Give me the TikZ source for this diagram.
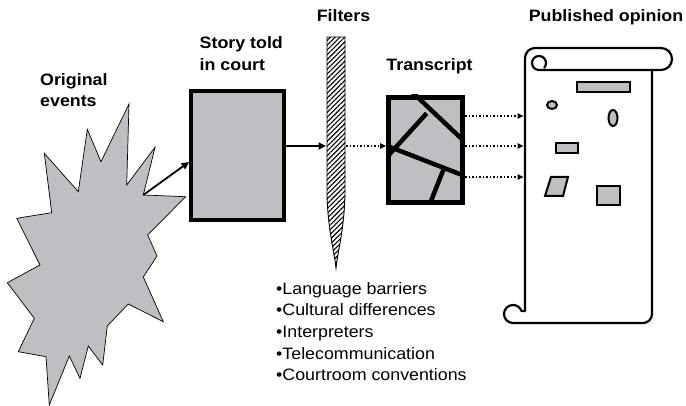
\documentclass[tikz,border=0pt]{standalone}
\usepackage{fontspec}
\setmainfont{Liberation Sans}[FakeStretch=1.08]
\usetikzlibrary{arrows.meta,patterns.meta}
\definecolor{fillgray}{RGB}{190,191,194}
\begin{document}
\begin{tikzpicture}[x=1pt,y=-1pt,
  lbl/.style={font=\fontsize{16.5}{21.5}\selectfont\bfseries, inner sep=0pt, align=left},
  lst/.style={font=\fontsize{16.5}{21.7}\selectfont, inner sep=0pt, align=left},
  thickbox/.style={draw, fill=fillgray, inner sep=0pt},
  arr/.style={line width=1.8pt, -{Triangle[length=7.5pt,width=7pt]}},
  darr/.style={line width=1.5pt, dotted, -{Triangle[length=6pt,width=5.5pt]}},
  scrollline/.style={line width=2.2pt, line join=round, line cap=round},
  pubshape/.style={draw, line width=2pt, fill=fillgray},
  tline/.style={line width=4.5pt}
]
\useasboundingbox (0,0) rectangle (686,406);

% starburst: original events
\draw[fill=fillgray, line width=0.7pt]
  (129,104) -- (126.7,185) -- (155,147.3) -- (143.3,195) -- (185.7,196.7)
  -- (147.7,235) -- (157,256) -- (143.3,277) -- (163.3,321.7) -- (128.3,304)
  -- (107.3,326) -- (102.7,365) -- (88.3,346) -- (80,378.3) -- (69.3,356)
  -- (49.3,405) -- (46,356.7) -- (18.3,351.7) -- (34.3,318.3) -- (7.3,282.7)
  -- (40,265) -- (16.7,218.3) -- (51.7,212.7) -- (44.3,153.3) -- (78.3,191.7)
  -- (87.3,129.3) -- (101,161.7) -- cycle;
\coordinate (burst) at (143.3,195);

% story told in court
\node[thickbox, line width=4pt, minimum width=93pt, minimum height=129pt] (story) at (237.5,155.5) {};

% filter needle
\draw[pattern={Lines[angle=45,distance=3.4pt,line width=1.1pt]}, line width=0.9pt]
  (327,37) -- (327,195) .. controls (328,230) and (334,250) .. (336,268)
  .. controls (338,250) and (344,230) .. (345,195) -- (345,37) -- cycle;
\coordinate (filterL) at (326,146);
\coordinate (filterR) at (346,146);

% transcript
\node[thickbox, line width=5pt, minimum width=74pt, minimum height=105pt] (transcript) at (425.5,150) {};
\begin{scope}
  \clip (transcript.north west) rectangle (transcript.south east);
  \draw[tline] (410,90) -- (466,143);
  \draw[tline] (426.7,113.3) -- (386,158);
  \draw[tline] (390,147) -- (466,176.5);
  \draw[tline] (443.3,170) -- (429,206);
\end{scope}

% published opinion scroll
\draw[scrollline]
  (525,311) -- (525,58) arc[start angle=180, end angle=270, radius=10]
  -- (661,48) arc[start angle=270, end angle=450, radius=11]
  -- (539,70) arc[start angle=90, end angle=400, radius=7];
\draw[scrollline] (652,70) -- (652,314) arc[start angle=0, end angle=90, radius=9]
  -- (513,323) arc[start angle=90, end angle=340, radius=9] -- (525,311);
\coordinate (in1) at (523.5,116);
\coordinate (in2) at (523.5,146);
\coordinate (in3) at (523.5,177);

\draw[pubshape] (577,82) rectangle (630,92);
\draw[pubshape] (552,105) ellipse[x radius=5, y radius=4];
\draw[pubshape] (613,118) ellipse[x radius=4.5, y radius=8];
\draw[pubshape] (556,143) rectangle (578,153);
\draw[pubshape] (545,196) -- (551,177) -- (568,177) -- (563,196) -- cycle;
\draw[pubshape] (597,186) rectangle (620,205);

% connectors
\draw[arr] (burst) -- ([yshift=-6.5pt]story.west);
\draw[arr] ([yshift=9.5pt]story.east) -- (filterL);
\draw[darr] (filterR) -- ([yshift=4pt]transcript.west);
\draw[darr] ([yshift=34pt]transcript.east) -- (in1);
\draw[darr] ([yshift=4pt]transcript.east) -- (in2);
\draw[darr] ([yshift=-27pt]transcript.east) -- (in3);

% labels
\node[lbl, anchor=north west] (lorig) at (40,73) {Original\\events};
\node[lbl, anchor=north west] (lstory) at (199.5,36.7) {Story told\\in court};
\node[lbl, anchor=north] (lfilt) at (343.5,9.3) {Filters};
\node[lbl, anchor=north] (ltrans) at (429.5,58.3) {Transcript};
\node[lbl, anchor=north] (lpub) at (606,9.3) {Published opinion};
\node[lst, anchor=north west] (flist) at (276,282) {•Language barriers\\•Cultural differences\\•Interpreters\\•Telecommunication\\•Courtroom conventions};
\end{tikzpicture}
\end{document}
